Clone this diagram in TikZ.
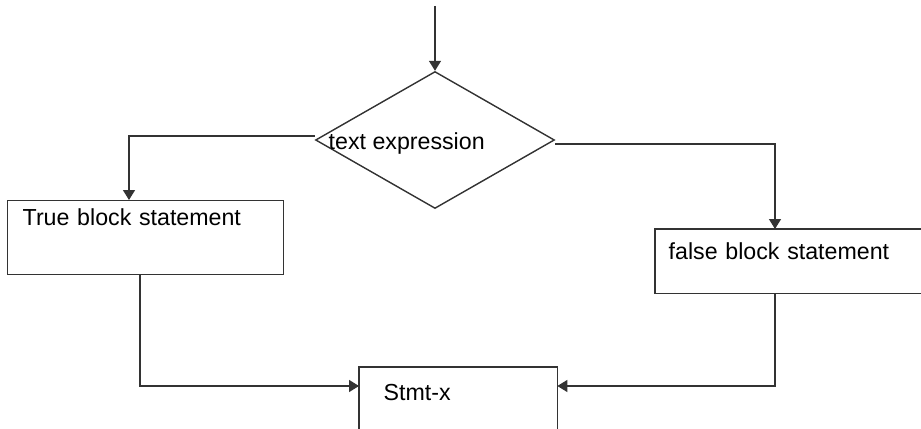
\documentclass[tikz,border=0pt]{standalone}
\usepackage{fontspec}
\setmainfont{Liberation Sans}
\usepackage{tikz}
\usetikzlibrary{shapes.geometric, arrows.meta, positioning, calc}

\begin{document}
\begin{tikzpicture}[x=0.02cm, y=-0.02cm, ->, >={Triangle[length=2mm,width=2.4mm]}, line width=0.8pt, color=black!80, text=black, font=\fontsize{13.2pt}{15pt}\selectfont]
  \tikzstyle{block} = [rectangle, draw, anchor=north west, inner ysep=0pt, align=left]
  \tikzstyle{openblock} = [rectangle, anchor=north west, inner ysep=0pt, align=left]
  \tikzstyle{decision} = [diamond, draw, inner sep=0pt, minimum width=4.78cm, minimum height=2.74cm]

  \useasboundingbox (0,0) rectangle (921,429);

  \coordinate (start) at (435,6);
  \node[decision] (cond) at (435,140) {};
  \node[anchor=base west, inner sep=0pt] (condtext) at (328,150) {text expression};

  \node[block, inner xsep=0.3cm, text width=4.92cm, text height=0.5cm, text depth=0.98cm] (truebox) at (7,200) {True block statement};
  \node[openblock, inner xsep=0.26cm, text width=4.5cm, text height=0.6cm, text depth=0.66cm] (falsebox) at (655,229) {false block statement};
  \node[openblock, inner xsep=0.48cm, text width=2.98cm, text height=0.66cm, text depth=0.66cm] (stmt) at (359,367) {Stmt-x};

  % boxes that run off the page: open side left out
  \draw[-] (falsebox.north west) ++(280,0) -- (falsebox.north west) -- (falsebox.south west) -- ++(280,0);
  \draw[-] (stmt.south west) -- (stmt.north west) -- (stmt.north east) -- (stmt.south east);

  \path[draw]
    (start) -- (cond.north);
  \draw ($(cond.west)+(0,-4)$) -| ($(truebox.north west)+(122,0)$);
  \draw ($(cond.east)+(0,4)$) -| ($(falsebox.north west)+(120,0)$);
  \draw ($(truebox.south west)+(133,0)$) |- ($(stmt.north west)+(0,19)$);
  \draw ($(falsebox.south west)+(120,0)$) |- ($(stmt.north east)+(0,19)$);
\end{tikzpicture}
\end{document}
